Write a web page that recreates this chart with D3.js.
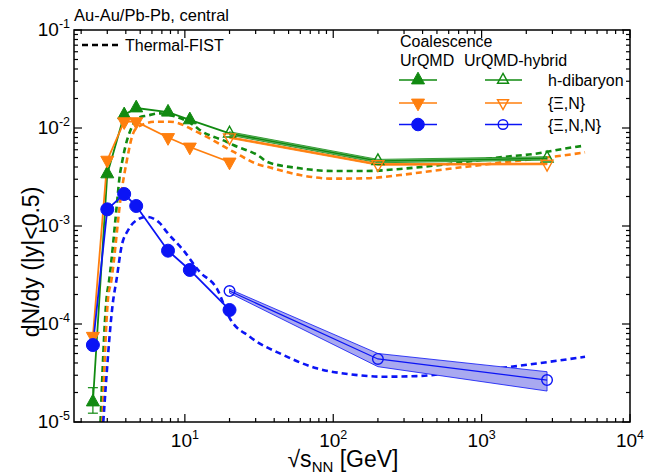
<!DOCTYPE html>
<html><head><meta charset="utf-8">
<script src="https://cdn.jsdelivr.net/npm/d3@7"></script>
<style>
body{margin:0;background:#fff;}
text{font-family:"Liberation Sans",Arial,sans-serif;}
</style></head>
<body><svg id="c" width="645" height="475"></svg>
<script>
// ---- data ----
const energiesUrqmd = [2.4, 3, 3.9, 4.7, 7.7, 10.8, 20];
const hdibUrqmd = [1.6e-5, 3.4e-3, 0.0136, 0.016, 0.0145, 0.0121, 0.0088];
const xinUrqmd  = [7.5e-5, 4.7e-3, 0.0116, 0.0116, 0.0080, 0.0064, 0.0045];
const xinnUrqmd = [6.1e-5, 1.48e-3, 2.12e-3, 1.6e-3, 5.6e-4, 3.56e-4, 1.39e-4];
const hdibErrLo = [1.23e-5], hdibErrHi = [2.24e-5];

const energiesHybrid = [20, 200, 2760];
const hdibHybrid = [0.0088, 4.6e-3, 4.9e-3];
const xinHybrid  = [0.0080, 4.25e-3, 4.3e-3];
const xinnHybrid = [2.17e-4, 4.4e-5, 2.68e-5];
const xinnHybridLo = [2.07e-4, 3.67e-5, 2.07e-5];
const xinnHybridHi = [2.27e-4, 5.0e-5, 3.26e-5];

const fistHdibX = [2.70, 2.96, 3.09, 3.53, 3.61, 3.80, 4.46, 4.97, 5.52, 6.78, 8.5, 11.4, 12.6, 19.1, 21.2, 32.1, 35.6, 59.6, 100, 168, 282, 472, 794, 1331, 2233, 3750, 4853];
const fistHdibY = [1e-5, 1.76e-4, 2.81e-4, 2.07e-3, 2.94e-3, 4.71e-3, 0.01074, 0.0129, 0.01335, 0.0141, 0.0132, 0.01074, 0.00955, 0.00724, 0.00671, 0.00509, 0.00453, 0.00388, 0.00364, 0.00364, 0.00382, 0.00412, 0.00453, 0.00502, 0.00543, 0.00621, 0.00659];
const fistXinX = [2.78, 3.03, 3.20, 3.74, 4.05, 4.44, 4.84, 6.44, 7.92, 12.6, 21.2, 32.1, 35.6, 59.6, 100, 168, 282, 472, 794, 1331, 2233, 3750, 4977];
const fistXinY = [1e-5, 1.76e-4, 2.81e-4, 2.24e-3, 4.53e-3, 8.5e-3, 0.0103, 0.0116, 0.0116, 0.00883, 0.00573, 0.00419, 0.00403, 0.00331, 0.00304, 0.00307, 0.00331, 0.00366, 0.00403, 0.00443, 0.00483, 0.0053, 0.00565];
const fistXinnX = [2.82, 3.29, 3.46, 3.74, 4.15, 4.84, 5.52, 6.78, 7.52, 9.74, 12.6, 16.4, 20.1, 27.4, 46, 77.3, 130, 217, 365, 612, 1026, 1725, 2891, 4977];
const fistXinnY = [1e-5, 1.76e-4, 2.81e-4, 6.15e-4, 9.1e-4, 1.17e-3, 1.24e-3, 1.07e-3, 8.75e-4, 5.69e-4, 3.4e-4, 2.31e-4, 1.14e-4, 7.4e-5, 4.83e-5, 3.53e-5, 3.07e-5, 2.9e-5, 2.94e-5, 3.14e-5, 3.4e-5, 3.72e-5, 4.12e-5, 4.63e-5];

const xTicks = [10, 100, 1000, 10000];
const xTickExp = ["1", "2", "3", "4"];
const yTicks = [1e-5, 1e-4, 1e-3, 1e-2, 1e-1];
const yTickExp = ["-5", "-4", "-3", "-2", "-1"];
const seriesNames = ["h-dibaryon", "{\u039E,N}", "{\u039E,N,N}"];

// ---- setup ----
const GREEN = "#118a11", ORANGE = "#ff7f0e", BLUE = "#0b14f5";
const L = 74, R = 630, T = 30, B = 422;
const svg = d3.select("#c");
const x = d3.scaleLog().domain([1.79, 10000]).range([L, R]);
const y = d3.scaleLog().domain([1e-5, 0.1]).range([B, T]);

svg.append("clipPath").attr("id", "clp").append("rect")
  .attr("x", L).attr("y", T).attr("width", R - L).attr("height", B - T);
const plot = svg.append("g").attr("clip-path", "url(#clp)");

const line = d3.line().x(d => x(d[0])).y(d => y(d[1]));
const curve = d3.line().x(d => x(d[0])).y(d => y(d[1])).curve(d3.curveMonotoneX);

// thermal-fist dashed
[[fistHdibX, fistHdibY, GREEN], [fistXinX, fistXinY, ORANGE], [fistXinnX, fistXinnY, BLUE]].forEach(([xs, ys, c]) => {
  plot.append("path").attr("d", curve(xs.map((v, i) => [v, ys[i]])))
    .attr("fill", "none").attr("stroke", c).attr("stroke-width", 2.6).attr("stroke-dasharray", "6,4");
});

// bands
const area = d3.area().x(d => x(d[0])).y0(d => y(d[1])).y1(d => y(d[2]));
plot.append("path").attr("d", area(energiesHybrid.map((e, i) => [e, xinnHybridLo[i], xinnHybridHi[i]])))
  .attr("fill", "#a9a9f0").attr("stroke", BLUE).attr("stroke-width", 0.8);
plot.append("path").attr("d", area(energiesHybrid.map((e, i) => [e, hdibHybrid[i] * 0.96, hdibHybrid[i] * 1.04])))
  .attr("fill", "#7fbf7f").attr("stroke", GREEN).attr("stroke-width", 0.8);
plot.append("path").attr("d", area(energiesHybrid.map((e, i) => [e, xinHybrid[i] * 0.98, xinHybrid[i] * 1.02])))
  .attr("fill", "#ffbf87").attr("stroke", ORANGE).attr("stroke-width", 0.8);

// solid lines
function sline(xs, ys, c, w) {
  plot.append("path").attr("d", line(xs.map((v, i) => [v, ys[i]])))
    .attr("fill", "none").attr("stroke", c).attr("stroke-width", w);
}
sline(energiesUrqmd, hdibUrqmd, GREEN, 1.8);
sline(energiesUrqmd, xinUrqmd, ORANGE, 1.8);
sline(energiesUrqmd, xinnUrqmd, BLUE, 1.8);
sline(energiesHybrid, hdibHybrid, GREEN, 1.6);
sline(energiesHybrid, xinHybrid, ORANGE, 1.6);
sline(energiesHybrid, xinnHybrid, BLUE, 1.2);

// error bar on first green point
{
  const px = x(energiesUrqmd[0]);
  const g = plot.append("g").attr("stroke", GREEN).attr("stroke-width", 1.2);
  g.append("line").attr("x1", px).attr("x2", px).attr("y1", y(hdibErrLo[0])).attr("y2", y(hdibErrHi[0]));
  [hdibErrLo[0], hdibErrHi[0]].forEach(v => g.append("line").attr("x1", px - 5).attr("x2", px + 5).attr("y1", y(v)).attr("y2", y(v)));
}

// markers
function tri(g, cx, cy, s, down, c, filled) {
  const h = s * 0.9, w = s / 2;
  const sg = down ? -1 : 1;
  const p = `M${cx},${cy - sg * h * 2 / 3}L${cx + w},${cy + sg * h / 3}L${cx - w},${cy + sg * h / 3}Z`;
  g.append("path").attr("d", p).attr("fill", filled ? c : "#fff").attr("fill-opacity", filled ? 1 : 0)
    .attr("stroke", c).attr("stroke-width", filled ? 1 : 1.4);
}
function circ(g, cx, cy, r, c, filled) {
  g.append("circle").attr("cx", cx).attr("cy", cy).attr("r", r)
    .attr("fill", filled ? c : "none").attr("stroke", c).attr("stroke-width", filled ? 1 : 1.4);
}
const mk = svg.append("g");
energiesUrqmd.forEach((e, i) => {
  if (i < energiesUrqmd.length - 1) tri(mk, x(e), y(hdibUrqmd[i]), 13, false, GREEN, true);
  tri(mk, x(e), y(xinUrqmd[i]), 13, true, ORANGE, true);
  circ(mk, x(e), y(xinnUrqmd[i]), 6.5, BLUE, true);
});
energiesHybrid.forEach((e, i) => {
  tri(mk, x(e), y(hdibHybrid[i]), 12, false, GREEN, false);
  tri(mk, x(e), y(xinHybrid[i]), 12, true, ORANGE, false);
  circ(mk, x(e), y(xinnHybrid[i]), 5.3, BLUE, false);
});

// ---- frame and ticks ----
const fr = svg.append("g").attr("stroke", "#000").attr("fill", "none");
fr.append("rect").attr("x", L).attr("y", T).attr("width", R - L).attr("height", B - T).attr("stroke-width", 1.5);
const xMinor = [], yMinor = [];
for (let d = 1; d <= 1000; d *= 10) for (let k = 2; k <= 9; k++) xMinor.push(k * d);
for (let d = 1e-5; d < 0.1; d *= 10) for (let k = 2; k <= 9; k++) yMinor.push(k * d);
const tk = svg.append("g").attr("stroke", "#000").attr("stroke-width", 1.2);
xMinor.filter(v => v > 1.79 && v < 10000).forEach(v => {
  tk.append("line").attr("x1", x(v)).attr("x2", x(v)).attr("y1", B).attr("y2", B - 4);
  tk.append("line").attr("x1", x(v)).attr("x2", x(v)).attr("y1", T).attr("y2", T + 4);
});
xTicks.forEach(v => {
  tk.append("line").attr("x1", x(v)).attr("x2", x(v)).attr("y1", B).attr("y2", B - 8);
  tk.append("line").attr("x1", x(v)).attr("x2", x(v)).attr("y1", T).attr("y2", T + 8);
});
yMinor.forEach(v => {
  tk.append("line").attr("x1", L).attr("x2", L + 4).attr("y1", y(v)).attr("y2", y(v));
  tk.append("line").attr("x1", R).attr("x2", R - 4).attr("y1", y(v)).attr("y2", y(v));
});
yTicks.forEach(v => {
  tk.append("line").attr("x1", L).attr("x2", L + 8).attr("y1", y(v)).attr("y2", y(v));
  tk.append("line").attr("x1", R).attr("x2", R - 8).attr("y1", y(v)).attr("y2", y(v));
});

// tick labels
const tl = svg.append("g").attr("fill", "#000");
xTicks.forEach((v, i) => {
  const t = tl.append("text").attr("x", x(v)).attr("y", 447).attr("text-anchor", "middle").attr("font-size", 19);
  t.append("tspan").text("10");
  t.append("tspan").attr("dy", -8).attr("font-size", 12.5).text(xTickExp[i]);
});
yTicks.forEach((v, i) => {
  const t = tl.append("text").attr("x", 70).attr("y", y(v) + 6).attr("text-anchor", "end").attr("font-size", 19);
  t.append("tspan").text("10");
  t.append("tspan").attr("dy", -8).attr("font-size", 12.5).text(yTickExp[i]);
});

// axis titles
svg.append("text").attr("transform", "translate(39,262) rotate(-90)").attr("text-anchor", "middle")
  .attr("font-size", 23).text("dN/dy (|y|<0.5)");
{
  const t = svg.append("text").attr("x", 343).attr("y", 467).attr("text-anchor", "middle").attr("font-size", 23);
  t.append("tspan").text("\u221As");
  t.append("tspan").attr("dy", 5).attr("font-size", 15).text("NN");
  t.append("tspan").attr("dy", -5).text(" [GeV]");
}
svg.append("text").attr("x", 74).attr("y", 21).attr("font-size", 16.5).text("Au-Au/Pb-Pb, central");

// legend
svg.append("line").attr("x1", 82).attr("x2", 118).attr("y1", 45).attr("y2", 45)
  .attr("stroke", "#000").attr("stroke-width", 2.4).attr("stroke-dasharray", "6,4");
svg.append("text").attr("x", 125).attr("y", 51).attr("font-size", 16).text("Thermal-FIST");
svg.append("text").attr("x", 400).attr("y", 47).attr("font-size", 16).text("Coalescence");
svg.append("text").attr("x", 400).attr("y", 66).attr("font-size", 16).text("UrQMD");
svg.append("text").attr("x", 464).attr("y", 66).attr("font-size", 16).text("UrQMD-hybrid");
const lg = svg.append("g");
const colors = [GREEN, ORANGE, BLUE];
const rowsY = [80, 103, 124.5];
rowsY.forEach((ry, i) => {
  const c = colors[i];
  lg.append("line").attr("x1", 399).attr("x2", 437).attr("y1", ry).attr("y2", ry).attr("stroke", c).attr("stroke-width", 1.6);
  lg.append("line").attr("x1", 485).attr("x2", 522).attr("y1", ry).attr("y2", ry).attr("stroke", c).attr("stroke-width", 1.3);
  if (i === 2) { circ(lg, 418, ry, 6.3, c, true); circ(lg, 503, ry, 4.8, c, false); }
  else { tri(lg, 418, ry, 13, i === 1, c, true); tri(lg, 503, ry, 11, i === 1, c, false); }
  lg.append("text").attr("x", 548).attr("y", ry + 6).attr("font-size", 16).text(seriesNames[i]);
});
</script></body></html>
